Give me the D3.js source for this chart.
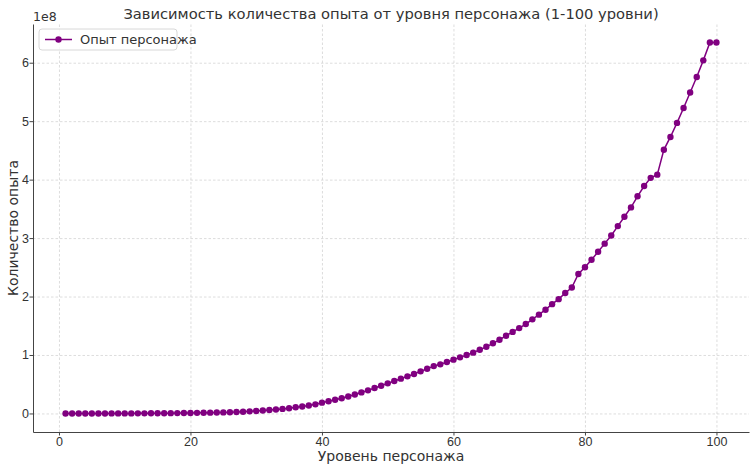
<!DOCTYPE html>
<html>
<head>
<meta charset="utf-8">
<script src="https://cdn.jsdelivr.net/npm/d3@7"></script>
<style>
  body { margin: 0; background: #fff; }
  svg { display: block; font-family: "DejaVu Sans", sans-serif; }
  .grid line { stroke: #d4d4d4; stroke-dasharray: 2.5,2; stroke-width: 0.8; }
  .grid path { display: none; }
  .axis path, .axis line { stroke: #444; }
  .axis text { fill: #333; font-size: 12.5px; }
</style>
</head>
<body>
<div id="chart"></div>
<script>
// chart texts
const chartTitle = "Зависимость количества опыта от уровня персонажа (1-100 уровни)";
const xLabel = "Уровень персонажа";
const yLabel = "Количество опыта";
const seriesName = "Опыт персонажа";

// levels 1..100
const levels = [
  1, 2, 3, 4, 5, 6, 7, 8, 9, 10,
  11, 12, 13, 14, 15, 16, 17, 18, 19, 20,
  21, 22, 23, 24, 25, 26, 27, 28, 29, 30,
  31, 32, 33, 34, 35, 36, 37, 38, 39, 40,
  41, 42, 43, 44, 45, 46, 47, 48, 49, 50,
  51, 52, 53, 54, 55, 56, 57, 58, 59, 60,
  61, 62, 63, 64, 65, 66, 67, 68, 69, 70,
  71, 72, 73, 74, 75, 76, 77, 78, 79, 80,
  81, 82, 83, 84, 85, 86, 87, 88, 89, 90,
  91, 92, 93, 94, 95, 96, 97, 98, 99, 100
];

// experience (units of 1e8)
const experience = [
  0.00001, 0.00003, 0.00007, 0.00013, 0.0002, 0.0003, 0.00045, 0.0006, 0.0008, 0.001,
  0.0013, 0.0017, 0.0022, 0.0028, 0.0035, 0.0043, 0.0052, 0.0062, 0.0073, 0.0085,
  0.010, 0.0116, 0.0134, 0.0155, 0.018, 0.021, 0.025, 0.030, 0.036, 0.043,
  0.051, 0.059, 0.068, 0.078, 0.090, 0.105, 0.120, 0.137, 0.156, 0.185,
  0.210, 0.235, 0.260, 0.290, 0.325, 0.360, 0.395, 0.435, 0.475, 0.515,
  0.555, 0.595, 0.635, 0.675, 0.720, 0.765, 0.810, 0.840, 0.880, 0.920,
  0.960, 1.000, 1.040, 1.090, 1.140, 1.200, 1.260, 1.330, 1.395, 1.460,
  1.530, 1.610, 1.690, 1.775, 1.870, 1.955, 2.060, 2.155, 2.385, 2.500,
  2.630, 2.765, 2.905, 3.045, 3.205, 3.365, 3.525, 3.715, 3.890, 4.030,
  4.085, 4.510, 4.730, 4.970, 5.225, 5.490, 5.755, 6.040, 6.345, 6.345
];

const xTicks = [0, 20, 40, 60, 80, 100];
const yTicks = [0, 1, 2, 3, 4, 5, 6];
const yExponent = "1e8";

const W = 756, H = 469;
const margin = { left: 33, top: 24, right: 7, bottom: 37 };
const width = W - margin.left - margin.right;
const height = H - margin.top - margin.bottom;

const data = levels.map(function(l, i) { return { level: l, xp: experience[i] }; });

// matplotlib-like 5% padding
const xMin = d3.min(levels), xMax = d3.max(levels);
const yMin = d3.min(experience), yMax = d3.max(experience);
const xPad = (xMax - xMin) * 0.05, yPad = (yMax - yMin) * 0.05;

const x = d3.scaleLinear().domain([xMin - xPad, xMax + xPad]).range([0, width]);
const y = d3.scaleLinear().domain([yMin - yPad, yMax + yPad]).range([height, 0]);

const root = d3.select("#chart").append("svg")
  .attr("width", W).attr("height", H);

const svg = root.append("g")
  .attr("transform", "translate(" + margin.left + "," + margin.top + ")");

// gridlines
svg.append("g")
  .attr("class", "grid")
  .attr("transform", "translate(0," + height + ")")
  .call(d3.axisBottom(x).tickValues(xTicks).tickSize(-height).tickFormat(""));
svg.append("g")
  .attr("class", "grid")
  .call(d3.axisLeft(y).tickValues(yTicks).tickSize(-width).tickFormat(""));

// axes (left + bottom only)
svg.append("g")
  .attr("class", "axis")
  .attr("transform", "translate(0," + height + ")")
  .call(d3.axisBottom(x).tickValues(xTicks).tickFormat(d3.format("d"))
    .tickSize(3.5).tickSizeOuter(0).tickPadding(2));
svg.append("g")
  .attr("class", "axis")
  .call(d3.axisLeft(y).tickValues(yTicks).tickFormat(d3.format("d"))
    .tickSize(3.5).tickSizeOuter(0).tickPadding(0.5));

// line
svg.append("path")
  .datum(data)
  .attr("fill", "none")
  .attr("stroke", "purple")
  .attr("stroke-width", 1.5)
  .attr("d", d3.line()
    .x(function(d) { return x(d.level); })
    .y(function(d) { return y(d.xp); }));

// markers
svg.selectAll("circle.pt")
  .data(data)
  .enter().append("circle")
  .attr("class", "pt")
  .attr("cx", function(d) { return x(d.level); })
  .attr("cy", function(d) { return y(d.xp); })
  .attr("r", 3.2)
  .attr("fill", "purple");

// exponent label
root.append("text")
  .attr("x", margin.left).attr("y", 21)
  .attr("font-size", 12.5).attr("fill", "#333")
  .text(yExponent);

// title
root.append("text")
  .attr("x", margin.left + width / 2).attr("y", 19)
  .attr("text-anchor", "middle")
  .attr("font-size", 14.7).attr("fill", "#333")
  .text(chartTitle);

// axis labels
root.append("text")
  .attr("x", margin.left + width / 2).attr("y", 461)
  .attr("text-anchor", "middle")
  .attr("font-size", 14).attr("fill", "#333")
  .text(xLabel);
root.append("text")
  .attr("transform", "translate(17.5," + (margin.top + height / 2) + ") rotate(-90)")
  .attr("text-anchor", "middle")
  .attr("font-size", 14).attr("fill", "#333")
  .text(yLabel);

// legend
const lg = svg.append("g").attr("transform", "translate(6,5)");
lg.append("rect")
  .attr("width", 138).attr("height", 21).attr("rx", 3)
  .attr("fill", "#fff").attr("fill-opacity", 0.8)
  .attr("stroke", "#d8d8d8");
lg.append("line")
  .attr("x1", 6).attr("x2", 33).attr("y1", 10.5).attr("y2", 10.5)
  .attr("stroke", "purple").attr("stroke-width", 1.5);
lg.append("circle")
  .attr("cx", 19.5).attr("cy", 10.5).attr("r", 3.2).attr("fill", "purple");
lg.append("text")
  .attr("x", 41).attr("y", 15)
  .attr("font-size", 13).attr("fill", "#333")
  .text(seriesName);
</script>
</body>
</html>
